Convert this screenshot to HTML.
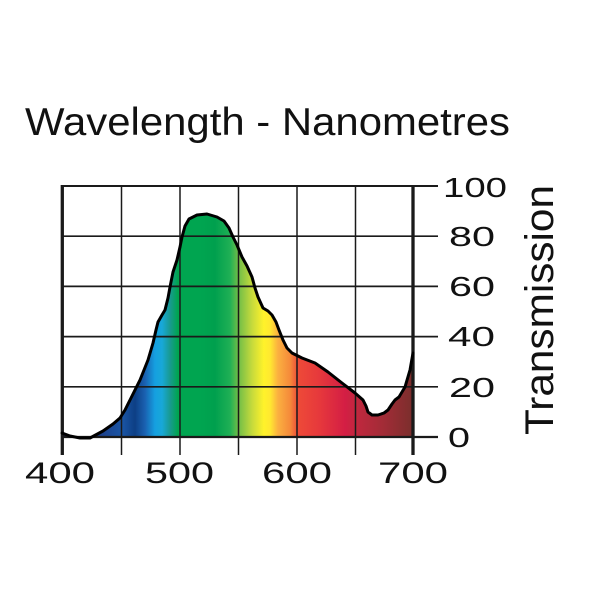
<!DOCTYPE html>
<html>
<head>
<meta charset="utf-8">
<style>
  html, body { margin: 0; padding: 0; background: #ffffff; }
  svg { display: block; }
  text { font-family: "Liberation Sans", Arial, sans-serif; fill: #111; }
</style>
</head>
<body>
<svg width="600" height="600" viewBox="0 0 600 600" xmlns="http://www.w3.org/2000/svg">
  <defs>
    <linearGradient id="spec" gradientUnits="userSpaceOnUse" x1="62" y1="0" x2="413" y2="0">
      <stop offset="0" stop-color="#1a1a5a"/>
      <stop offset="0.108" stop-color="#1c3f8a"/>
      <stop offset="0.171" stop-color="#1a55a5"/>
      <stop offset="0.208" stop-color="#0d3f85"/>
      <stop offset="0.236" stop-color="#1a60b0"/>
      <stop offset="0.265" stop-color="#15a0e0"/>
      <stop offset="0.285" stop-color="#18a8d8"/>
      <stop offset="0.308" stop-color="#189a90"/>
      <stop offset="0.330" stop-color="#00a550"/>
      <stop offset="0.393" stop-color="#00a550"/>
      <stop offset="0.436" stop-color="#00a04e"/>
      <stop offset="0.479" stop-color="#20b055"/>
      <stop offset="0.501" stop-color="#6cbc48"/>
      <stop offset="0.541" stop-color="#c5da3c"/>
      <stop offset="0.575" stop-color="#fff22a"/>
      <stop offset="0.593" stop-color="#ffe830"/>
      <stop offset="0.615" stop-color="#fbb040"/>
      <stop offset="0.650" stop-color="#f58a3a"/>
      <stop offset="0.672" stop-color="#ee4a38"/>
      <stop offset="0.735" stop-color="#e6383c"/>
      <stop offset="0.806" stop-color="#d41e44"/>
      <stop offset="0.843" stop-color="#bf283e"/>
      <stop offset="0.920" stop-color="#a02c36"/>
      <stop offset="1" stop-color="#7a2e2c"/>
    </linearGradient>
  </defs>

  <!-- Title -->
  <text x="25" y="135" font-size="39" textLength="485" lengthAdjust="spacingAndGlyphs">Wavelength - Nanometres</text>

  <!-- Filled spectrum -->
  <path fill="url(#spec)" stroke="none"
    d="M62,437 L62,433 L70,436 L80,438 L90,438 L103,431 L113,424 L120,418 L125,410 L130,400 L135,390 L140,380 L144,370 L148,360 L153,343 L156,330 L158,322 L162,315 L165,310 L168,298 L170,287 L173,272 L177,260 L180,247 L182,237 L185,226 L189,219 L197,215 L207,214 L217,217 L224,221 L229,228 L233,237 L237,245 L242,257 L247,266 L252,277 L255,288 L258,297 L263,308 L268,311 L272,315 L276,322 L279,330 L283,340 L287,348 L292,353 L302,358 L315,363 L328,372 L342,383 L355,393 L363,400 L366,406 L368,412 L372,415 L378,415 L384,413 L388,410 L392,404 L395,400 L399,397 L405,387 L410,370 L413,353 L413,437 Z"/>

  <!-- Grid -->
  <g stroke="#1a1a1a" stroke-width="1.7" fill="none">
    <line x1="62" y1="186" x2="438" y2="186" stroke-width="2"/>
    <line x1="62" y1="236.2" x2="438" y2="236.2"/>
    <line x1="62" y1="286.4" x2="438" y2="286.4"/>
    <line x1="62" y1="336.6" x2="438" y2="336.6"/>
    <line x1="62" y1="386.8" x2="438" y2="386.8"/>
    <line x1="62" y1="437" x2="438" y2="437" stroke-width="2.2"/>
    <line x1="121.5" y1="186" x2="121.5" y2="455" stroke-width="1.5"/>
    <line x1="180" y1="186" x2="180" y2="455" stroke-width="1.5"/>
    <line x1="238.5" y1="186" x2="238.5" y2="455" stroke-width="1.5"/>
    <line x1="297" y1="186" x2="297" y2="455" stroke-width="1.5"/>
    <line x1="355.5" y1="186" x2="355.5" y2="455" stroke-width="1.5"/>
    <line x1="413" y1="186" x2="413" y2="455" stroke-width="3.3"/>
    <line x1="62.3" y1="185" x2="62.3" y2="455" stroke-width="3.3"/>
  </g>

  <!-- Curve outline -->
  <path fill="none" stroke="#000" stroke-width="3" stroke-linejoin="round" stroke-linecap="round"
    d="M62,433 L70,436 L80,438 L90,438 L103,431 L113,424 L120,418 L125,410 L130,400 L135,390 L140,380 L144,370 L148,360 L153,343 L156,330 L158,322 L162,315 L165,310 L168,298 L170,287 L173,272 L177,260 L180,247 L182,237 L185,226 L189,219 L197,215 L207,214 L217,217 L224,221 L229,228 L233,237 L237,245 L242,257 L247,266 L252,277 L255,288 L258,297 L263,308 L268,311 L272,315 L276,322 L279,330 L283,340 L287,348 L292,353 L302,358 L315,363 L328,372 L342,383 L355,393 L363,400 L366,406 L368,412 L372,415 L378,415 L384,413 L388,410 L392,404 L395,400 L399,397 L405,387 L410,370 L413,353"/>

  <!-- Bottom tick labels -->
  <text x="25" y="483" font-size="30" textLength="70" lengthAdjust="spacingAndGlyphs">400</text>
  <text x="145" y="483" font-size="30" textLength="69" lengthAdjust="spacingAndGlyphs">500</text>
  <text x="262" y="483" font-size="30" textLength="70" lengthAdjust="spacingAndGlyphs">600</text>
  <text x="378" y="483" font-size="30" textLength="70" lengthAdjust="spacingAndGlyphs">700</text>

  <!-- Right tick labels -->
  <text x="443" y="197" font-size="28" textLength="64" lengthAdjust="spacingAndGlyphs">100</text>
  <text x="449" y="246" font-size="28" textLength="46" lengthAdjust="spacingAndGlyphs">80</text>
  <text x="449" y="296" font-size="28" textLength="46" lengthAdjust="spacingAndGlyphs">60</text>
  <text x="448" y="346" font-size="28" textLength="47" lengthAdjust="spacingAndGlyphs">40</text>
  <text x="449" y="397" font-size="28" textLength="46" lengthAdjust="spacingAndGlyphs">20</text>
  <text x="448" y="447" font-size="28" textLength="22" lengthAdjust="spacingAndGlyphs">0</text>

  <!-- Right axis title -->
  <text transform="translate(553,435) rotate(-90)" x="0" y="0" font-size="40" textLength="250" lengthAdjust="spacingAndGlyphs">Transmission</text>
</svg>
</body>
</html>
